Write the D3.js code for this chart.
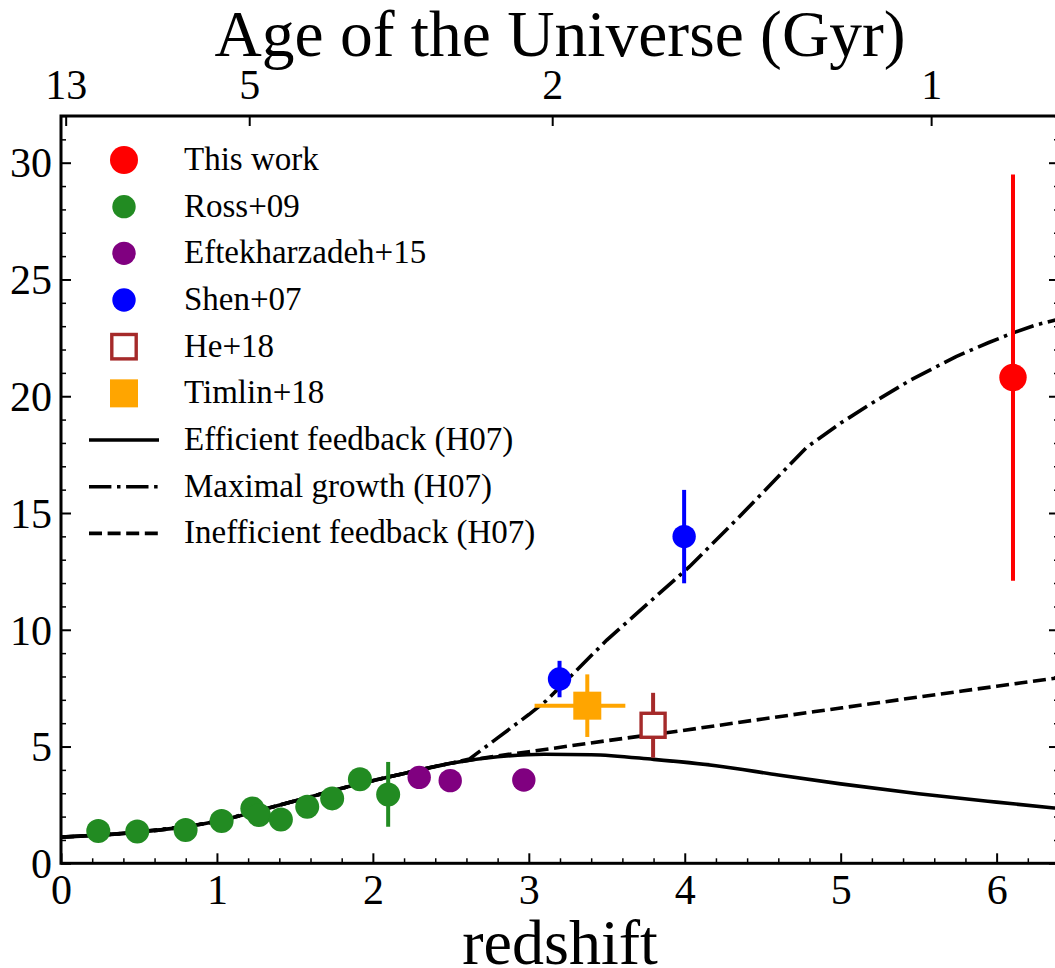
<!DOCTYPE html>
<html lang="en">
<head>
    <meta charset="UTF-8">
    <title>Quasar bias vs redshift</title>
    <script src="https://cdn.jsdelivr.net/npm/d3@7"></script>
    <style>
        body {
            margin: 0;
            background: #fff;
        }

        svg {
            display: block;
            font-family: "Liberation Serif", "Times New Roman", serif;
        }

        .axis text {
            font-family: "Liberation Serif", "Times New Roman", serif;
            font-size: 42px;
            fill: #000;
        }

        .axis line {
            stroke: #000;
            stroke-width: 2px;
        }

        .axis.minor line {
            stroke-width: 1.5px;
        }

        .axis .domain {
            display: none;
        }

        .legend text {
            font-size: 33px;
            fill: #000;
        }
    </style>
</head>
<body>
<script>
    // ---- data ----
    // This work
    const thisWorkZ = [6.105]
    const thisWorkB = [20.8]
    const thisWorkErr = [8.7]

    // Ross+09
    const rossZ = [0.239, 0.489, 0.799, 1.030, 1.227, 1.269, 1.410, 1.579, 1.739, 1.917, 2.098]
    const rossB = [1.38, 1.36, 1.43, 1.81, 2.35, 2.07, 1.88, 2.42, 2.78, 3.60, 2.95]
    const rossErr = [0, 0, 0, 0, 0, 0, 0, 0, 0, 0, 1.39]

    // Eftekharzadeh+15
    const eftekZ = [2.297, 2.496, 2.968]
    const eftekB = [3.68, 3.54, 3.57]

    // Shen+07
    const shenZ = [3.197, 3.996]
    const shenB = [7.89, 13.99]
    const shenErr = [0.78, 2.0]

    // He+18
    const heZ = [3.797]
    const heB = [5.91]
    const heErr = [1.39]

    // Timlin+18
    const timlinZ = [3.375]
    const timlinB = [6.75]
    const timlinErrZLo = [0.338]
    const timlinErrZHi = [0.244]
    const timlinErrB = [1.34]

    // H07 model curves
    const efficientZ = [0, 0.4, 0.8, 1.0, 1.35, 1.6, 1.9, 2.2, 2.5, 2.8, 3.1, 3.4, 3.8, 4.2, 4.6, 5.0, 5.5, 6.0, 6.4]
    const efficientB = [1.12, 1.28, 1.57, 1.80, 2.40, 2.85, 3.38, 3.85, 4.28, 4.56, 4.67, 4.65, 4.45, 4.18, 3.78, 3.40, 2.98, 2.62, 2.35]

    const maximalZ = [0, 0.4, 0.8, 1.0, 1.35, 1.6, 1.9, 2.2, 2.5, 2.62, 2.8, 3.0, 3.11, 3.5, 4.03, 4.35, 4.78, 5.0, 5.2, 5.45, 5.74, 5.95, 6.1, 6.25, 6.4]
    const maximalB = [1.12, 1.28, 1.57, 1.80, 2.40, 2.85, 3.38, 3.85, 4.28, 4.47, 5.37, 6.37, 6.95, 9.56, 12.7, 14.84, 17.8, 18.85, 19.7, 20.7, 21.7, 22.3, 22.7, 23.05, 23.3]

    const inefficientZ = [0, 0.4, 0.8, 1.0, 1.35, 1.6, 1.9, 2.2, 2.5, 2.8, 3.0, 3.5, 4.0, 4.5, 5.0, 5.5, 6.0, 6.4]
    const inefficientB = [1.12, 1.28, 1.57, 1.80, 2.40, 2.85, 3.38, 3.85, 4.28, 4.6, 4.78, 5.25, 5.7, 6.18, 6.65, 7.12, 7.58, 7.95]

    // top axis: age of the universe
    const ageLabels = ["13", "5", "2", "1"]
    const ageZ = [0.03, 1.207, 3.15, 5.58]

    const legendLabels = ["This work", "Ross+09", "Eftekharzadeh+15", "Shen+07", "He+18", "Timlin+18",
        "Efficient feedback (H07)", "Maximal growth (H07)", "Inefficient feedback (H07)"]

    // ---- layout ----
    const W = 1055, H = 968
    const margin = {top: 116, left: 61}
    const width = 998, height = 747.3

    const x = d3.scaleLinear().domain([0, 6.4]).range([0, width])
    const y = d3.scaleLinear().domain([0, 32]).range([height, 0])

    const svg = d3.select("body").append("svg").attr("width", W).attr("height", H)

    svg.append("defs").append("clipPath").attr("id", "plot")
        .append("rect").attr("width", width).attr("height", height)

    const chart = svg.append("g").attr("transform", `translate(${[margin.left, margin.top]})`)

    // ---- axes (ticks pointing inward) ----
    const isInt = v => Math.abs(v - Math.round(v)) < 1e-6
    const xMinor = d3.range(0, 6.41, 0.2).filter(v => !isInt(v))
    const yMinor = d3.range(0, 33, 1).filter(v => v % 5 !== 0)

    chart.append("g").attr("class", "axis").attr("transform", `translate(0,${height})`)
        .call(d3.axisBottom(x).tickValues(d3.range(0, 7)).tickSize(-10).tickSizeOuter(0).tickPadding(11).tickFormat(d3.format("d")))
    chart.append("g").attr("class", "axis minor").attr("transform", `translate(0,${height})`)
        .call(d3.axisBottom(x).tickValues(xMinor).tickSize(-5).tickSizeOuter(0).tickFormat(""))

    chart.append("g").attr("class", "axis")
        .call(d3.axisLeft(y).tickValues(d3.range(0, 31, 5)).tickSize(-10).tickSizeOuter(0).tickPadding(9))
        .selectAll("text").attr("dy", "0.34em")
    chart.append("g").attr("class", "axis minor")
        .call(d3.axisLeft(y).tickValues(yMinor).tickSize(-5).tickSizeOuter(0).tickFormat(""))

    chart.append("g").attr("class", "axis").attr("transform", `translate(${width},0)`)
        .call(d3.axisRight(y).tickValues(d3.range(0, 31, 5)).tickSize(-10).tickSizeOuter(0).tickFormat(""))
    chart.append("g").attr("class", "axis minor").attr("transform", `translate(${width},0)`)
        .call(d3.axisRight(y).tickValues(yMinor).tickSize(-5).tickSizeOuter(0).tickFormat(""))

    chart.append("g").attr("class", "axis")
        .call(d3.axisTop(x).tickValues(ageZ).tickSize(-10).tickSizeOuter(0).tickPadding(17)
            .tickFormat((d, i) => ageLabels[i]))

    // frame
    chart.append("rect").attr("width", width).attr("height", height)
        .attr("fill", "none").attr("stroke", "#000").attr("stroke-width", 3)

    // ---- model curves ----
    const view = chart.append("g").attr("clip-path", "url(#plot)")

    function drawCurve(zs, bs, dash, curve) {
        const line = d3.line().x(d => x(d[0])).y(d => y(d[1])).curve(curve)
        view.append("path")
            .datum(zs.map((z, i) => [z, bs[i]]))
            .attr("d", line)
            .attr("fill", "none")
            .attr("stroke", "#000")
            .attr("stroke-width", 3.6)
            .attr("stroke-dasharray", dash)
    }

    drawCurve(efficientZ, efficientB, null, d3.curveMonotoneX)
    drawCurve(inefficientZ, inefficientB, "13,5.6", d3.curveMonotoneX)
    drawCurve(maximalZ, maximalB, "22.4,5.6,3.5,5.6", d3.curveLinear)

    // ---- error bars ----
    function vErr(zs, bs, lo, hi, color) {
        view.append("g").selectAll("line").data(zs.map((z, i) => i).filter(i => lo[i] > 0))
            .join("line")
            .attr("x1", i => x(zs[i])).attr("x2", i => x(zs[i]))
            .attr("y1", i => y(bs[i] - lo[i])).attr("y2", i => y(bs[i] + hi[i]))
            .attr("stroke", color).attr("stroke-width", 4)
    }

    function hErr(zs, bs, lo, hi, color) {
        view.append("g").selectAll("line").data(zs.map((z, i) => i))
            .join("line")
            .attr("x1", i => x(zs[i] - lo[i])).attr("x2", i => x(zs[i] + hi[i]))
            .attr("y1", i => y(bs[i])).attr("y2", i => y(bs[i]))
            .attr("stroke", color).attr("stroke-width", 4)
    }

    const colors = {
        thisWork: "#ff0000", ross: "#228b22", eftek: "#800080",
        shen: "#0000ff", he: "#a52a2a", timlin: "#ffa500"
    }

    vErr(rossZ, rossB, rossErr, rossErr, colors.ross)
    vErr(shenZ, shenB, shenErr, shenErr, colors.shen)
    vErr(heZ, heB, heErr, heErr, colors.he)
    vErr(timlinZ, timlinB, timlinErrB, timlinErrB, colors.timlin)
    hErr(timlinZ, timlinB, timlinErrZLo, timlinErrZHi, colors.timlin)
    vErr(thisWorkZ, thisWorkB, thisWorkErr, thisWorkErr, colors.thisWork)

    // ---- markers ----
    function dots(zs, bs, r, color) {
        view.append("g").selectAll("circle").data(zs.map((z, i) => [z, bs[i]]))
            .join("circle")
            .attr("cx", d => x(d[0])).attr("cy", d => y(d[1]))
            .attr("r", r).attr("fill", color)
    }

    dots(rossZ, rossB, 12, colors.ross)
    dots(eftekZ, eftekB, 11.7, colors.eftek)
    dots(shenZ, shenB, 11.7, colors.shen)

    view.append("g").selectAll("rect").data(timlinZ.map((z, i) => [z, timlinB[i]]))
        .join("rect")
        .attr("x", d => x(d[0]) - 14).attr("y", d => y(d[1]) - 14)
        .attr("width", 28).attr("height", 28).attr("fill", colors.timlin)

    view.append("g").selectAll("rect").data(heZ.map((z, i) => [z, heB[i]]))
        .join("rect")
        .attr("x", d => x(d[0]) - 12).attr("y", d => y(d[1]) - 12)
        .attr("width", 24).attr("height", 24)
        .attr("fill", "#fff").attr("stroke", colors.he).attr("stroke-width", 3.4)

    dots(thisWorkZ, thisWorkB, 13.7, colors.thisWork)

    // ---- legend ----
    const legend = svg.append("g").attr("class", "legend")
    const legX = 124, legY0 = 160, legStep = 46.67, legTextX = 184

    legendLabels.forEach((label, i) => {
        const cy = legY0 + i * legStep
        const row = legend.append("g")
        if (i === 0) row.append("circle").attr("cx", legX).attr("cy", cy).attr("r", 14).attr("fill", colors.thisWork)
        if (i === 1) row.append("circle").attr("cx", legX).attr("cy", cy).attr("r", 11.7).attr("fill", colors.ross)
        if (i === 2) row.append("circle").attr("cx", legX).attr("cy", cy).attr("r", 11.7).attr("fill", colors.eftek)
        if (i === 3) row.append("circle").attr("cx", legX).attr("cy", cy).attr("r", 11.7).attr("fill", colors.shen)
        if (i === 4) row.append("rect").attr("x", legX - 12.2).attr("y", cy - 12.2).attr("width", 24.4).attr("height", 24.4)
            .attr("fill", "#fff").attr("stroke", colors.he).attr("stroke-width", 3.4)
        if (i === 5) row.append("rect").attr("x", legX - 14).attr("y", cy - 14).attr("width", 28).attr("height", 28)
            .attr("fill", colors.timlin)
        if (i >= 6) {
            const dash = [null, "22.4,5.6,3.5,5.6", "13,5.6"][i - 6]
            row.append("line").attr("x1", 89).attr("x2", 159).attr("y1", cy).attr("y2", cy)
                .attr("stroke", "#000").attr("stroke-width", 3.6).attr("stroke-dasharray", dash)
        }
        row.append("text").attr("x", legTextX).attr("y", cy).attr("dy", "0.3em").text(label)
    })

    // ---- titles ----
    svg.append("text")
        .attr("x", margin.left + width / 2).attr("y", 56)
        .attr("text-anchor", "middle").style("font-size", "65.5px")
        .text("Age of the Universe (Gyr)")

    svg.append("text")
        .attr("x", margin.left + width / 2).attr("y", 964)
        .attr("text-anchor", "middle").style("font-size", "64px")
        .text("redshift")
</script>
</body>
</html>
